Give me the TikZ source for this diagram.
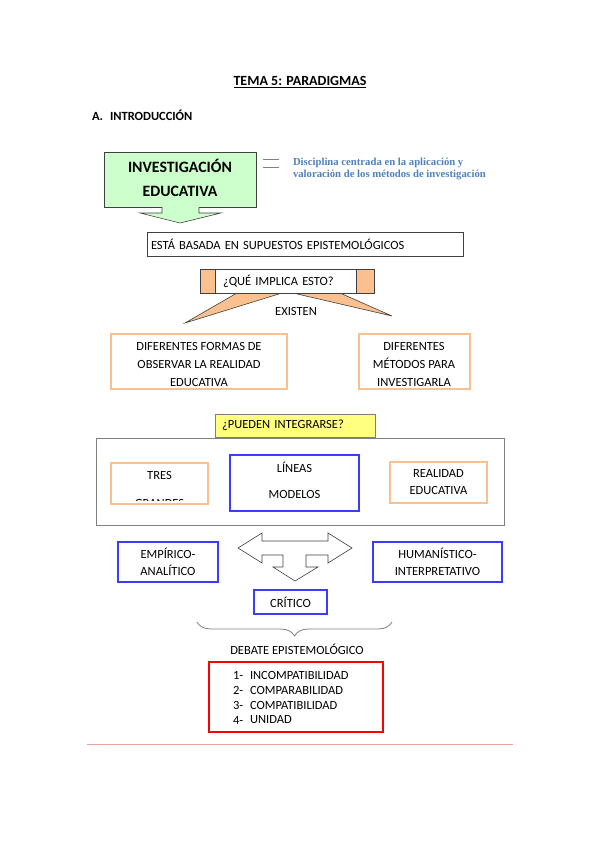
\documentclass[tikz,border=0pt]{standalone}
\usepackage{fontspec}
\setmainfont{Carlito}
\newfontfamily\blueserif{Liberation Serif}
\usetikzlibrary{calc}
\usetikzlibrary{decorations.pathreplacing}
\definecolor{boxgreen}{HTML}{CCFFCC}
\definecolor{boxorange}{HTML}{FAC090}
\definecolor{boxyellow}{HTML}{FFFF80}
\definecolor{boxblue}{HTML}{3B3BFF}
\definecolor{textblue}{HTML}{4F81BD}
\definecolor{linegray}{HTML}{404040}
\definecolor{framegray}{HTML}{7F7F7F}
\definecolor{rulepink}{HTML}{F2A0A0}
\newcommand{\bodysize}{\fontsize{12.5}{15}\selectfont}
\tikzstyle{plainbox}=[draw=linegray, line width=0.8pt, inner sep=0, outer sep=0]
\tikzstyle{obox}=[draw=boxorange, line width=2pt, inner sep=0, outer sep=0]
\tikzstyle{bbox}=[draw=boxblue, line width=2.5pt, inner sep=0, outer sep=0, align=center]
\tikzstyle{txt}=[inner sep=0, outer sep=0]
\tikzstyle{pagemap}=[x=1pt, y=-1pt,
                     % Default font for every label.
                     every node/.style={font=\bodysize, text=black}]

\begin{document}
\begin{tikzpicture}[pagemap]
    \useasboundingbox (0,0) rectangle (600,848);
    % Headings.
    \node[txt, font=\fontsize{14}{16}\selectfont\bfseries] (title) at (300,82) {\underline{TEMA 5: PARADIGMAS}};
    \node[txt, anchor=west, font=\bodysize\bfseries] (intro) at (92,115) {A.\hspace{7pt}INTRODUCCIÓN};

    % Green box with its arrow.
    \node[plainbox, fill=boxgreen, minimum width=152, minimum height=55] (inv) at (180,179.5) {};
    \node[txt, align=center, font=\fontsize{15.8}{24}\selectfont\bfseries] (invlabel) at ($(inv)+(0,-2)$)
          {INVESTIGACIÓN\\EDUCATIVA};
    \draw[linegray, line width=0.6pt, fill=boxgreen] ($(inv.south)+(-18,0)$) -- +(0,6) -- +(-22,6)
        -- ($(inv.south)+(0,16)$) -- ($(inv.south)+(41,6)$) -- ($(inv.south)+(19,6)$) -- ($(inv.south)+(19,0)$);
    \draw[framegray, line width=0.8pt] (263,159) -- (279,159) (263,167) -- (279,167);
    \node[txt, anchor=west, align=left, text=textblue,
          font=\blueserif\bfseries\fontsize{10.7}{12.5}\selectfont] (def) at (293,169)
          {Disciplina centrada en la aplicación y\\valoración de los métodos de investigación};

    \node[plainbox, text width=308, inner xsep=4, minimum height=24, align=left] (base) at (305,244)
          {ESTÁ BASADA EN SUPUESTOS EPISTEMOLÓGICOS};

    % Callout with two pointers.
    \draw[linegray, line width=0.6pt, fill=boxorange] (237,293) -- (185,323) -- (282,293);
    \draw[linegray, line width=0.6pt, fill=boxorange] (293,293) -- (392,316) -- (340,293);
    \node[plainbox, fill=white, text width=128, inner xsep=23, minimum height=24, align=left] (impl) at (287,281)
          {¿QUÉ IMPLICA ESTO?};
    \draw[linegray, line width=0.8pt, fill=boxorange] (impl.north west) rectangle ($(impl.south west)+(15,0)$);
    \draw[linegray, line width=0.8pt, fill=boxorange] (impl.north east) rectangle ($(impl.south east)+(-18,0)$);
    \node[txt] (existen) at (296,311) {EXISTEN};

    \node[obox, minimum width=176, minimum height=55] (formas) at (199,361) {};
    \node[txt, align=center, font=\fontsize{12.5}{18}\selectfont] (formaslabel) at ($(formas)+(0,3)$)
          {DIFERENTES FORMAS DE\\OBSERVAR LA REALIDAD\\EDUCATIVA};
    \node[obox, minimum width=111, minimum height=55] (metodos) at (414,361) {};
    \node[txt, align=center, font=\fontsize{12.5}{18}\selectfont] (metodoslabel) at ($(metodos)+(0,3)$)
          {DIFERENTES\\MÉTODOS PARA\\INVESTIGARLA};

    % Frame with the three boxes.
    \node[draw=framegray, line width=0.8pt, minimum width=408, minimum height=87, inner sep=0] (marco) at (300,481.5) {};
    \node[draw=framegray, line width=0.8pt, fill=boxyellow, text width=146, inner xsep=7, minimum height=23,
          align=left, anchor=south] (pueden) at ($(marco.north)+(-5,0)$) {¿PUEDEN INTEGRARSE?};

    \node[txt] (treslabel) at (159.5,475) {TRES};
    \begin{scope}
        \clip (111,463) rectangle (208,500);
        \node[txt, anchor=base] (grandes) at (159.5,507.5) {GRANDES};
    \end{scope}
    \node[obox, minimum width=97, minimum height=41] (tres) at (159.5,483) {};
    \node[bbox, minimum width=129, minimum height=56] (lineas) at (294.5,483) {};
    \node[txt, align=center, font=\fontsize{12.5}{26}\selectfont] (lineaslabel) at ($(lineas)+(0,-3)$)
          {LÍNEAS\\MODELOS};
    \node[obox, minimum width=97, minimum height=41, align=center, font=\fontsize{12.5}{17}\selectfont] (realidad)
          at (438.5,482.5) {REALIDAD\\EDUCATIVA};

    % Paradigms and the three-way arrow.
    \node[bbox, minimum width=100, minimum height=40, font=\fontsize{12.5}{17}\selectfont] (empirico) at (168,562)
          {EMPÍRICO-\\ANALÍTICO};
    \node[bbox, minimum width=129, minimum height=40, font=\fontsize{12.5}{17}\selectfont] (humanistico) at (437.5,562)
          {HUMANÍSTICO-\\INTERPRETATIVO};
    \draw[linegray, line width=0.6pt, fill=white] (238,548) -- (262,533) -- (262,541) -- (328,541) -- (328,533)
        -- (352,548) -- (328,563) -- (328,555) -- (306,555) -- (306,567) -- (318,567) -- (295,581)
        -- (273,567) -- (283,567) -- (283,555) -- (262,555) -- (262,563) -- cycle;
    \node[bbox, minimum width=73, minimum height=24] (critico) at (290.5,602) {CRÍTICO};

    % Debate.
    \draw[framegray, line width=0.8pt, decorate, decoration={brace, mirror, amplitude=14pt}] (197,622) -- (392,622);
    \node[txt] (debate) at (297,649) {DEBATE EPISTEMOLÓGICO};
    \node[draw=red, line width=2.5pt, minimum width=174, minimum height=70, inner sep=0] (postura) at (296,697) {};
    \foreach \w [count=\i] in {INCOMPATIBILIDAD,COMPARABILIDAD,COMPATIBILIDAD,UNIDAD} {
        \node[txt, anchor=west] (num\i) at (233,660+15*\i) {\i-};
        \node[txt, anchor=west] (item\i) at (250,660+15*\i) {\w};
    }

    \draw[rulepink, line width=1pt] (87,744) -- (513,744);
\end{tikzpicture}
\end{document}
